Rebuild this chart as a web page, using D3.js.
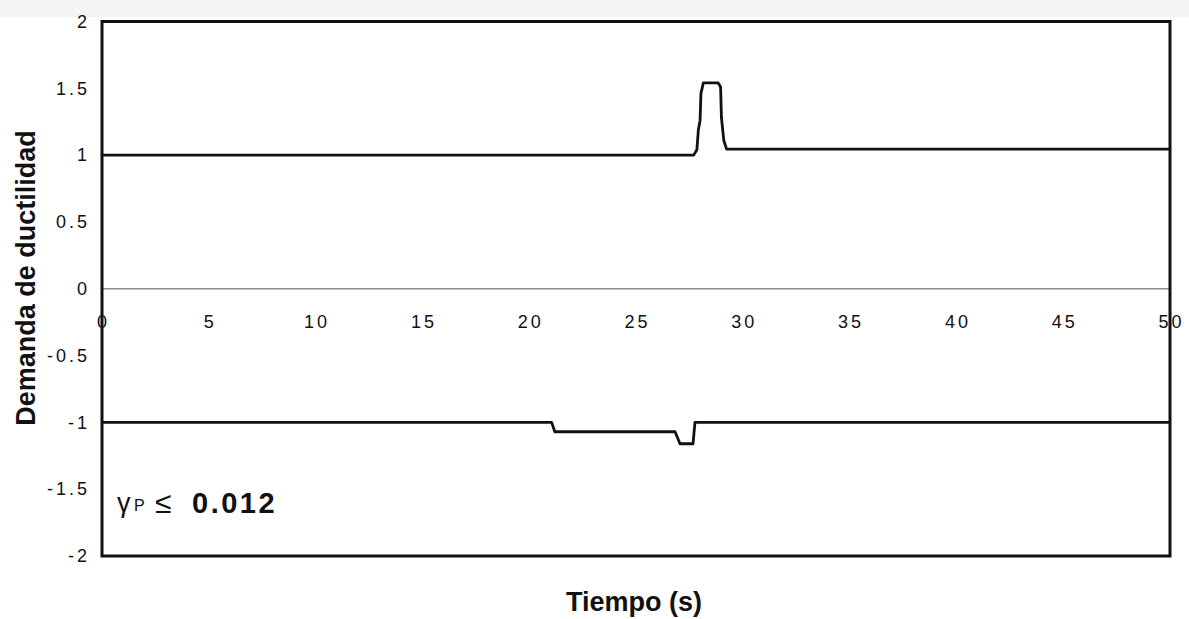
<!DOCTYPE html>
<html>
<head>
<meta charset="utf-8">
<script src="https://cdn.jsdelivr.net/npm/d3@7"></script>
<style>
  body { margin: 0; background: #fff; }
  text { font-family: "Liberation Sans", Arial, sans-serif; fill: #111; }
</style>
</head>
<body>
<script>
// ---------------- data ----------------
let xTicks = [0, 5, 10, 15, 20, 25, 30, 35, 40, 45, 50];
let yTicks = [2, 1.5, 1, 0.5, 0, -0.5, -1, -1.5, -2];

// upper envelope (positive ductility demand)
let upperT = [0, 27.7, 27.85, 27.92, 28.0, 28.04, 28.15, 28.85, 28.96, 29.0, 29.11, 29.24, 50];
let upperV = [1.0, 1.0, 1.04, 1.19, 1.26, 1.46, 1.54, 1.54, 1.51, 1.28, 1.11, 1.045, 1.045];

// lower envelope (negative ductility demand)
let lowerT = [0, 21.05, 21.2, 26.83, 27.06, 27.67, 27.76, 27.85, 50];
let lowerV = [-1.0, -1.0, -1.07, -1.07, -1.16, -1.16, -1.0, -1.0, -1.0];

let w = 1189,
    h = 619;

let svg = d3.select("body")
    .append("svg")
    .attr("width", w)
    .attr("height", h);

// faint scan band along the top
svg.append("rect")
    .attr("x", 0).attr("y", 0)
    .attr("width", w).attr("height", 17)
    .attr("fill", "#f4f4f4");

let x = d3.scaleLinear().domain([0, 50]).range([102, 1170]);
let y = d3.scaleLinear().domain([-2, 2]).range([556, 21.5]);

// zero line (x axis) in grey
svg.append("line")
    .attr("x1", x(0)).attr("x2", x(50))
    .attr("y1", y(0)).attr("y2", y(0))
    .attr("stroke", "#8a8a8a")
    .attr("stroke-width", 1.5);

// x tick labels sit under the zero line
svg.selectAll(".xt")
    .data(xTicks)
    .enter()
    .append("text")
        .attr("class", "xt")
        .text(d => d)
        .attr("x", d => x(d) + 1.5)
        .attr("y", y(0) + 39)
        .attr("font-size", "18px")
        .attr("letter-spacing", "3px")
        .attr("text-anchor", "middle");

// y tick labels
svg.selectAll(".yt")
    .data(yTicks)
    .enter()
    .append("text")
        .attr("class", "yt")
        .text(d => d)
        .attr("x", x(0) - 12)
        .attr("y", d => y(d))
        .attr("dy", "0.35em")
        .attr("font-size", "18px")
        .attr("letter-spacing", "3px")
        .attr("text-anchor", "end");

let line = d3.line()
    .x(d => x(d[0]))
    .y(d => y(d[1]));

let upper = upperT.map((t, i) => [t, upperV[i]]);
let lower = lowerT.map((t, i) => [t, lowerV[i]]);

[upper, lower].forEach(s => {
    svg.append("path")
        .attr("d", line(s))
        .attr("fill", "none")
        .attr("stroke", "#111")
        .attr("stroke-width", 2.8)
        .attr("stroke-linejoin", "round");
});

// plot frame
svg.append("rect")
    .attr("x", x(0)).attr("y", y(2))
    .attr("width", x(50) - x(0))
    .attr("height", y(-2) - y(2))
    .attr("fill", "none")
    .attr("stroke", "#111")
    .attr("stroke-width", 3);

// axis titles
svg.append("text")
    .text("Tiempo (s)")
    .attr("x", 634)
    .attr("y", 611)
    .attr("font-size", "27px")
    .attr("font-weight", "bold")
    .attr("text-anchor", "middle");

svg.append("text")
    .text("Demanda de ductilidad")
    .attr("transform", "translate(35,278) rotate(-90)")
    .attr("font-size", "27px")
    .attr("font-weight", "bold")
    .attr("text-anchor", "middle");

// annotation  γP ≤ 0.012
let note = svg.append("g");
note.append("text").text("γ")
    .attr("x", 117).attr("y", 512)
    .attr("font-size", "27px");
note.append("text").text("P")
    .attr("x", 134).attr("y", 511)
    .attr("font-size", "16px");
note.append("text").text("≤")
    .attr("x", 155).attr("y", 513)
    .attr("font-size", "30px");
note.append("text").text("0.012")
    .attr("x", 192).attr("y", 513)
    .attr("font-size", "29px")
    .attr("font-weight", "bold")
    .attr("letter-spacing", "2.5px");
</script>
</body>
</html>
